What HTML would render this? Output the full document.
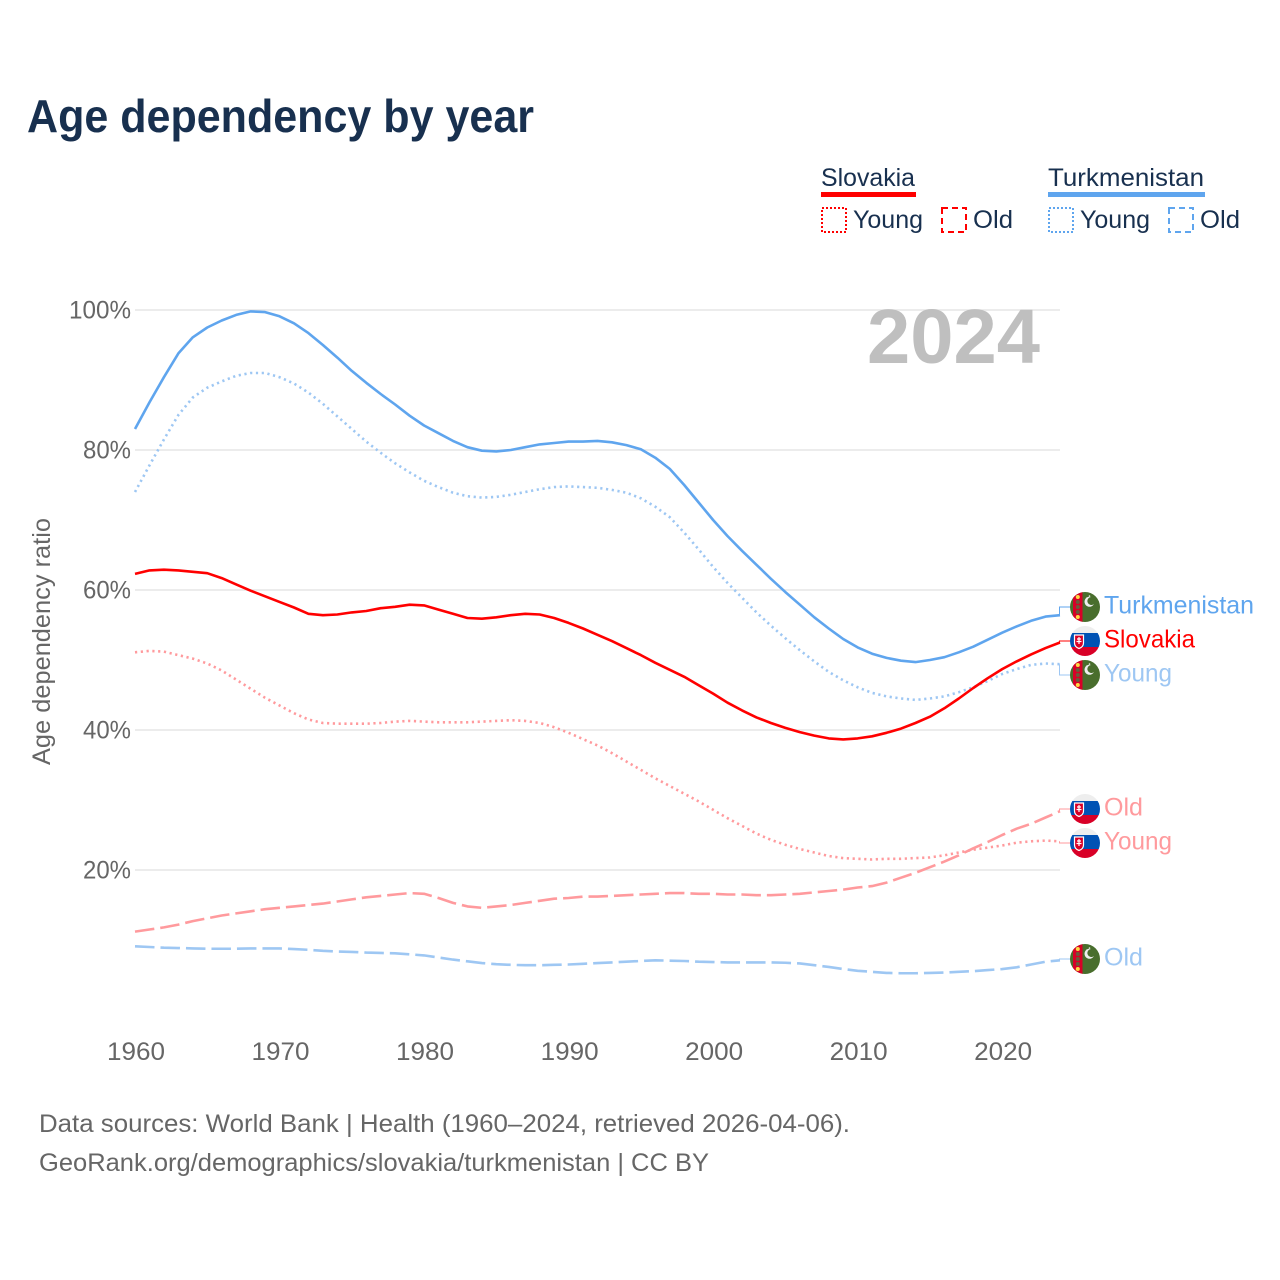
<!DOCTYPE html>
<html lang="en">
<head>
<meta charset="utf-8">
<title>Age dependency by year</title>
<style>
html,body{margin:0;padding:0;background:#fff;}
svg{display:block;font-family:"Liberation Sans",sans-serif;}
</style>
</head>
<body>
<svg id="chart" xmlns="http://www.w3.org/2000/svg" width="1280" height="1280" viewBox="0 0 1280 1280">
  <defs>
    <clipPath id="flag-clip"><circle cx="0" cy="0" r="15"/></clipPath>
  </defs>
  <rect x="0" y="0" width="1280" height="1280" fill="#ffffff"/>
  <text x="27" y="132" font-size="46" font-weight="700" fill="#18304f" textLength="507" lengthAdjust="spacingAndGlyphs">Age dependency by year</text>

  <g font-size="25" fill="#18304f">
    <text x="821" y="186" textLength="94" lengthAdjust="spacingAndGlyphs">Slovakia</text>
    <rect x="821" y="192" width="95" height="5" fill="#ff0000"/>
    <rect x="822" y="208" width="24" height="24" fill="none" stroke="#ff0000" stroke-width="2" stroke-dasharray="2 2"/>
    <text x="853" y="228" textLength="70" lengthAdjust="spacingAndGlyphs">Young</text>
    <rect x="942" y="208" width="24" height="24" fill="none" stroke="#ff0000" stroke-width="2" stroke-dasharray="6 4"/>
    <text x="973" y="228" textLength="40" lengthAdjust="spacingAndGlyphs">Old</text>
    <text x="1048" y="186" textLength="156" lengthAdjust="spacingAndGlyphs">Turkmenistan</text>
    <rect x="1048" y="192" width="157" height="5" fill="#5fa5ee"/>
    <rect x="1049" y="208" width="24" height="24" fill="none" stroke="#5fa5ee" stroke-width="2" stroke-dasharray="2 2"/>
    <text x="1080" y="228" textLength="70" lengthAdjust="spacingAndGlyphs">Young</text>
    <rect x="1169" y="208" width="24" height="24" fill="none" stroke="#5fa5ee" stroke-width="2" stroke-dasharray="6 4"/>
    <text x="1200" y="228" textLength="40" lengthAdjust="spacingAndGlyphs">Old</text>
  </g>

  <g id="grid"></g>
  <g id="y-ticks"></g>
  <g id="x-ticks"></g>
  <text transform="translate(50,641.500) rotate(-90)" text-anchor="middle" font-size="25" fill="#666666" textLength="247" lengthAdjust="spacingAndGlyphs">Age dependency ratio</text>
  <text x="867" y="363" font-size="77" font-weight="700" fill="#bfbfbf" textLength="173" lengthAdjust="spacingAndGlyphs">2024</text>
  <g id="series"></g>
  <g id="end-labels"></g>

  <text x="39" y="1132" font-size="25" fill="#666666" textLength="811" lengthAdjust="spacingAndGlyphs">Data sources: World Bank | Health (1960–2024, retrieved 2026-04-06).</text>
  <text x="39" y="1171" font-size="25" fill="#666666" textLength="670" lengthAdjust="spacingAndGlyphs">GeoRank.org/demographics/slovakia/turkmenistan | CC BY</text>
</svg>
<script>
const startYear = 1960;
const xTickYears = [1960, 1970, 1980, 1990, 2000, 2010, 2020];
const yTickValues = [20, 40, 60, 80, 100];

const turkmenistanTotal = [83,86.8,90.4,93.8,96.1,97.5,98.5,99.3,99.8,99.7,99.1,98.1,96.7,95,93.2,91.3,89.6,88,86.5,84.9,83.5,82.4,81.3,80.4,79.9,79.8,80,80.4,80.8,81,81.2,81.2,81.3,81.1,80.7,80.1,78.9,77.3,75,72.5,70,67.7,65.6,63.6,61.6,59.7,57.9,56.1,54.5,53,51.8,50.9,50.3,49.9,49.7,50,50.4,51.1,51.9,52.9,53.9,54.8,55.6,56.2,56.4];
const turkmenistanYoung = [74,77.8,81.5,85,87.5,88.9,89.8,90.6,91,91,90.4,89.5,88.2,86.6,84.8,83,81.2,79.6,78.1,76.8,75.6,74.7,73.9,73.4,73.2,73.3,73.6,74,74.4,74.7,74.8,74.7,74.6,74.3,73.9,73.1,71.9,70.4,68.2,65.8,63.3,61,58.9,56.8,54.9,53.1,51.4,49.8,48.3,47.1,46.1,45.3,44.8,44.5,44.3,44.5,44.8,45.4,46.1,47,48,48.7,49.3,49.5,49.4];
const turkmenistanOld = [9.1,9,8.9,8.85,8.8,8.75,8.75,8.75,8.8,8.8,8.8,8.7,8.6,8.45,8.35,8.3,8.2,8.15,8.1,7.95,7.8,7.5,7.2,6.95,6.7,6.55,6.45,6.4,6.4,6.45,6.5,6.6,6.7,6.8,6.9,7,7.1,7.05,7,6.9,6.85,6.8,6.8,6.8,6.8,6.75,6.65,6.4,6.15,5.85,5.6,5.45,5.3,5.25,5.25,5.3,5.35,5.45,5.55,5.7,5.85,6.1,6.5,6.9,7.1];
const slovakiaTotal = [62.3,62.8,62.9,62.8,62.6,62.4,61.7,60.8,59.9,59.1,58.3,57.5,56.6,56.4,56.5,56.8,57,57.4,57.6,57.9,57.8,57.2,56.6,56,55.9,56.1,56.4,56.6,56.5,56,55.3,54.5,53.6,52.7,51.7,50.7,49.6,48.6,47.6,46.4,45.2,43.9,42.8,41.8,41,40.3,39.7,39.2,38.8,38.65,38.8,39.1,39.6,40.2,41,41.9,43.1,44.5,46,47.4,48.7,49.8,50.8,51.7,52.5];
const slovakiaYoung = [51.1,51.3,51.2,50.7,50.2,49.5,48.5,47.2,45.9,44.6,43.5,42.4,41.5,41,40.9,40.9,40.9,41,41.2,41.3,41.2,41.1,41.1,41.1,41.2,41.3,41.4,41.3,41,40.4,39.6,38.7,37.8,36.7,35.5,34.3,33.1,32,30.9,29.8,28.6,27.4,26.3,25.2,24.3,23.6,23,22.5,22,21.7,21.6,21.5,21.6,21.6,21.7,21.8,22.1,22.5,22.9,23.2,23.5,23.9,24.1,24.2,24.1];
const slovakiaOld = [11.2,11.5,11.8,12.2,12.7,13.1,13.5,13.8,14.1,14.4,14.6,14.8,15,15.2,15.5,15.8,16.1,16.3,16.5,16.7,16.6,16,15.3,14.8,14.6,14.8,15,15.3,15.6,15.9,16,16.2,16.2,16.3,16.4,16.5,16.6,16.7,16.7,16.6,16.6,16.5,16.5,16.4,16.4,16.5,16.6,16.8,17,17.2,17.5,17.7,18.2,18.9,19.6,20.4,21.2,22.1,23.1,24,25,25.9,26.6,27.5,28.4];

const NS = 'http://www.w3.org/2000/svg';
function xScale(year) { return 135 + (year - 1960) * 14.453; }
function yScale(value) { return 1010 - value * 7; }
function make(tag, parent, attrs, text) {
  const el = document.createElementNS(NS, tag);
  for (const k in attrs) el.setAttribute(k, attrs[k]);
  if (text !== undefined) el.textContent = text;
  parent.appendChild(el);
  return el;
}

const gridGroup = document.getElementById('grid');
const yTickGroup = document.getElementById('y-ticks');
yTickValues.forEach(function (v) {
  const line = make('line', gridGroup, {x1: 135, x2: 1060, y1: yScale(v), y2: yScale(v), stroke: '#e6e6e6', 'stroke-width': 1.5});
  
  
  const label = make('text', yTickGroup, {x: 131, y: yScale(v) + 8.5, 'text-anchor': 'end', 'font-size': 25, fill: '#666666', textLength: v === 100 ? 62 : 48, lengthAdjust: 'spacingAndGlyphs'}, v + '%');
  
  
});

const xTickGroup = document.getElementById('x-ticks');
xTickYears.forEach(function (year) {
  const label = make('text', xTickGroup, {x: xScale(year) + 1, y: 1060, 'text-anchor': 'middle', 'font-size': 25, fill: '#666666', textLength: 58, lengthAdjust: 'spacingAndGlyphs'}, String(year));
  
  
});

const seriesGroup = document.getElementById('series');
function drawSeries(name, values, color, width, dash) {
  const pts = values.map(function (v, i) { return xScale(startYear + i).toFixed(2) + ',' + yScale(v).toFixed(2); }).join(' ');
  const attrs = {points: pts, fill: 'none', stroke: color, 'stroke-width': width, 'stroke-linejoin': 'round'};
  if (dash) attrs['stroke-dasharray'] = dash;
  const line = make('polyline', seriesGroup, attrs);
  
  
}
const BLUE = '#5fa5ee', BLUE_L = '#9ec7f3', RED = '#ff0000', RED_L = '#ff9a9d';
drawSeries('line-turkmenistan-old', turkmenistanOld, BLUE_L, 2.6, '19.5 6');
drawSeries('line-slovakia-old', slovakiaOld, RED_L, 2.6, '19.5 6');
drawSeries('line-turkmenistan-young', turkmenistanYoung, BLUE_L, 2.6, '2.2 3.6');
drawSeries('line-slovakia-young', slovakiaYoung, RED_L, 2.6, '2.2 3.6');
drawSeries('line-turkmenistan-total', turkmenistanTotal, BLUE, 2.6);
drawSeries('line-slovakia-total', slovakiaTotal, RED, 2.6);

const labelGroup = document.getElementById('end-labels');
function drawFlag(parent, country, cy) {
  const g = make('g', parent, {transform: 'translate(1085,' + cy + ')', 'clip-path': 'url(#flag-clip)'});
  
  
  if (country === 'slovakia') {
    make('rect', g, {x: -15, y: -15, width: 30, height: 7, fill: '#eeeeee'});
    make('rect', g, {x: -15, y: -8, width: 30, height: 14, fill: '#0052b4'});
    make('rect', g, {x: -15, y: 6, width: 30, height: 9, fill: '#d80027'});
    make('path', g, {d: 'M-10.500,-6 H-1.500 V2 Q-1.500,6 -6,7.500 Q-10.500,6 -10.500,2 Z', fill: '#d80027', stroke: '#ffffff', 'stroke-width': 1.2});
    make('path', g, {d: 'M-6,-4 V3 M-8,-2 H-4 M-8.500,0.500 H-3.500', stroke: '#ffffff', 'stroke-width': 1.2, fill: 'none'});
  } else {
    make('rect', g, {x: -15, y: -15, width: 30, height: 30, fill: '#496e2d'});
    make('rect', g, {x: -12, y: -15, width: 9.500, height: 30, fill: '#d80027'});
    [-10, -5, 0, 5, 10].forEach(function (d, i) {
      make('circle', g, {cx: -7.200, cy: d, r: 2, fill: i % 4 === 0 ? '#ffda44' : '#6a5a3a'});
    });
    make('path', g, {d: 'M6,-10 A5,5 0 1 0 9,-3 A4,4 0 1 1 6,-10 Z', fill: '#eeeeee'});
    make('circle', g, {cx: 2, cy: -9, r: 0.800, fill: '#eeeeee'});
    make('circle', g, {cx: 0.500, cy: -6, r: 0.800, fill: '#eeeeee'});
    make('circle', g, {cx: 1, cy: -3, r: 0.800, fill: '#eeeeee'});
    make('circle', g, {cx: 4.500, cy: -11, r: 0.800, fill: '#eeeeee'});
  }
}
function endLabel(name, country, text, textWidth, values, labelY, color) {
  const g = make('g', labelGroup, {});
  
  
  const y0 = yScale(values[values.length - 1]);
  const conn = make('path', g, {d: 'M1059.500,' + y0.toFixed(1) + ' V' + labelY + ' H1072', fill: 'none', stroke: color, 'stroke-width': 1});
  
  
  drawFlag(g, country, labelY);
  const t = make('text', g, {x: 1104, y: labelY + 6.5, 'font-size': 25, fill: color, textLength: textWidth, lengthAdjust: 'spacingAndGlyphs'}, text);
  
  
}
endLabel('turkmenistan-total', 'turkmenistan', 'Turkmenistan', 150, turkmenistanTotal, 607, BLUE);
endLabel('slovakia-old', 'slovakia', 'Old', 39, slovakiaOld, 809, RED_L);
endLabel('slovakia-young', 'slovakia', 'Young', 68, slovakiaYoung, 843, RED_L);
endLabel('slovakia-total', 'slovakia', 'Slovakia', 91, slovakiaTotal, 641, RED);
endLabel('turkmenistan-young', 'turkmenistan', 'Young', 68, turkmenistanYoung, 675, BLUE_L);
endLabel('turkmenistan-old', 'turkmenistan', 'Old', 39, turkmenistanOld, 959, BLUE_L);
</script>
</body>
</html>
